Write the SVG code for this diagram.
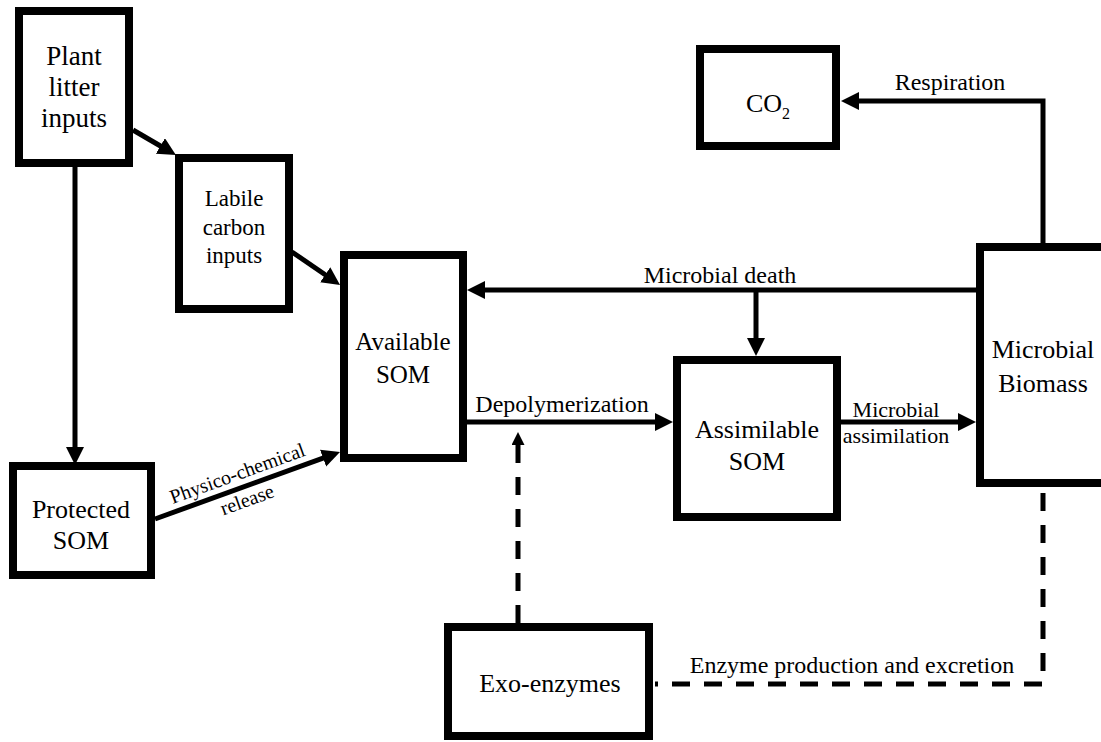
<svg xmlns="http://www.w3.org/2000/svg" width="1101" height="742" viewBox="0 0 1101 742" font-family="'Liberation Serif', 'DejaVu Serif', serif">
<style>
.box{fill:#fff;stroke:#000;stroke-width:8}
text{font-family:'Liberation Serif','DejaVu Serif',serif}
.t{fill:#000;text-anchor:middle}
.lb{font-size:26px}
.el{font-size:24px}
.ln{fill:none;stroke:#000;stroke-width:5}
.dash{fill:none;stroke:#000;stroke-width:5;stroke-dasharray:18 14}
</style>
<defs>
<marker id="ah" markerUnits="userSpaceOnUse" markerWidth="20" markerHeight="20" refX="8" refY="9" orient="auto">
<path d="M0,0 L18,9 L0,18 z" fill="#000"/>
</marker>
<marker id="ahs" markerUnits="userSpaceOnUse" markerWidth="16" markerHeight="16" refX="5" refY="6.5" orient="auto">
<path d="M0,0 L13,6.5 L0,13 z" fill="#000"/>
</marker>
</defs>
<rect width="1101" height="742" fill="#fff"/>
<g id="connectors">
<line class="ln" x1="133" y1="130" x2="167.3" y2="150" marker-end="url(#ah)"/>
<line class="ln" x1="292" y1="252" x2="331.8" y2="279.3" marker-end="url(#ah)"/>
<line class="ln" x1="75" y1="167" x2="75" y2="455" marker-end="url(#ah)"/>
<line class="ln" x1="155" y1="519" x2="330.6" y2="455.4" marker-end="url(#ah)"/>
<line class="ln" x1="976" y1="290" x2="477" y2="290" marker-end="url(#ah)"/>
<line class="ln" x1="756" y1="290" x2="756" y2="346" marker-end="url(#ah)"/>
<line class="ln" x1="467" y1="422" x2="663" y2="422" marker-end="url(#ah)"/>
<line class="ln" x1="841" y1="422" x2="966" y2="422" marker-end="url(#ah)"/>
<path class="ln" d="M1043,243 V101 H851" marker-end="url(#ah)"/>
<line class="dash" x1="518" y1="623" x2="518" y2="440" marker-end="url(#ahs)"/>
<path class="dash" d="M1043,493 V684 H655"/>
<text class="t el" x="950" y="90">Respiration</text>
<text class="t el" x="720" y="283">Microbial death</text>
<text class="t el" x="562" y="412">Depolymerization</text>
<text class="t" style="font-size:22px" x="896" y="417">Microbial</text>
<text class="t" style="font-size:22px" x="896" y="443">assimilation</text>
<text class="t el" x="852" y="673">Enzyme production and excretion</text>
<g transform="translate(155,519) rotate(-20)">
<text class="t" style="font-size:20px" x="93" y="-8">Physico-chemical</text>
<text class="t" style="font-size:20px" x="93" y="20">release</text>
</g>
</g>
<g id="plant-litter">
<rect class="box" x="19" y="11" width="110" height="152"/>
<text class="t" style="font-size:27px" x="74" y="65">Plant</text>
<text class="t" style="font-size:27px" x="74" y="96">litter</text>
<text class="t" style="font-size:27px" x="74" y="127">inputs</text>
</g>
<g id="labile-carbon">
<rect class="box" x="179" y="158" width="110" height="151"/>
<text class="t" style="font-size:23px" x="234" y="206">Labile</text>
<text class="t" style="font-size:23px" x="234" y="235">carbon</text>
<text class="t" style="font-size:23px" x="234" y="263">inputs</text>
</g>
<g id="available-som">
<rect class="box" x="344" y="255" width="119" height="203"/>
<text class="t" style="font-size:25px" x="403" y="350">Available</text>
<text class="t" style="font-size:25px" x="403" y="383">SOM</text>
</g>
<g id="protected-som">
<rect class="box" x="13" y="466" width="138" height="109"/>
<text class="t lb" x="81" y="518">Protected</text>
<text class="t lb" x="81" y="549">SOM</text>
</g>
<g id="co2">
<rect class="box" x="700" y="49" width="136" height="97"/>
<text class="t lb" x="768" y="112">CO<tspan style="font-size:16px" dy="7">2</tspan></text>
</g>
<g id="assimilable-som">
<rect class="box" x="677" y="360" width="160" height="157"/>
<text class="t lb" x="757" y="438">Assimilable</text>
<text class="t lb" x="757" y="470">SOM</text>
</g>
<g id="exo-enzymes">
<rect class="box" x="448" y="627" width="201" height="109"/>
<text class="t lb" x="550" y="692">Exo-enzymes</text>
</g>
<g id="microbial-biomass">
<rect class="box" x="980" y="247" width="140" height="236"/>
<text class="t lb" x="1043" y="358">Microbial</text>
<text class="t lb" x="1043" y="392">Biomass</text>
</g>
</svg>
